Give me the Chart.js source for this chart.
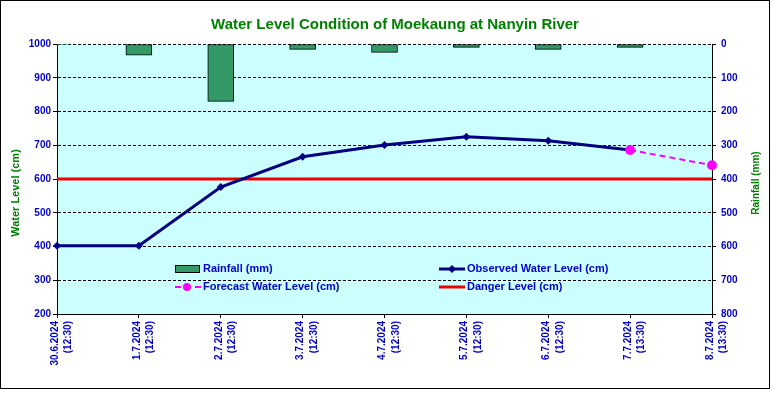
<!DOCTYPE html>
<html>
<head>
<meta charset="utf-8">
<title>Water Level Condition of Moekaung at Nanyin River</title>
<script src="https://cdn.jsdelivr.net/npm/chart.js@4.4.1/dist/chart.umd.min.js"></script>
<style>
    body { margin: 0; background: #fff; }
    #grafico { display: block; }
</style>
</head>
<body>
<canvas id="grafico" width="773" height="393"></canvas>
<script>
const d = document;

// ==================== DATOS ======================
const fechas = ['30.6.2024', '1.7.2024', '2.7.2024', '3.7.2024', '4.7.2024', '5.7.2024', '6.7.2024', '7.7.2024', '8.7.2024'];
const horas = ['(12:30)', '(12:30)', '(12:30)', '(12:30)', '(12:30)', '(12:30)', '(12:30)', '(13:30)', '(13:30)'];
const lluvia = [2, 33, 170, 16, 25, 10, 16, 10, null];
const nivelObservado = [402, 402, 576, 666, 701, 725, 713, 686, null];
const nivelPronostico = [null, null, null, null, null, null, null, 686, 641];
const nivelPeligro = [600, 600, 600, 600, 600, 600, 600, 600, 600];

const azul = '#0000cc',
    verde = '#008000';

// posiciones de la leyenda (dentro del area del grafico)
const posLeyenda = [
    { x: 175, y: 269 },
    { x: 439, y: 269 },
    { x: 175, y: 287 },
    { x: 439, y: 287 },
];

const extras = {
    id: 'extras',
    beforeDraw(chart) {
        const { ctx, chartArea: a } = chart;
        ctx.save();
        ctx.fillStyle = '#ccffff';
        ctx.fillRect(a.left, a.top, a.right - a.left, a.bottom - a.top);
        ctx.restore();
    },
    afterDraw(chart) {
        const ctx = chart.ctx;
        ctx.save();

        // borde exterior
        ctx.strokeStyle = '#000';
        ctx.lineWidth = 1;
        ctx.strokeRect(0.5, 0.5, 769, 388);

        // titulo
        ctx.fillStyle = verde;
        ctx.font = 'bold 15px "Liberation Sans", sans-serif';
        ctx.textAlign = 'center';
        ctx.textBaseline = 'middle';
        ctx.fillText('Water Level Condition of Moekaung at Nanyin River', 395, 25);

        // titulos de los ejes
        ctx.font = 'bold 11px "Liberation Sans", sans-serif';
        ctx.save();
        ctx.translate(16, 193);
        ctx.rotate(-Math.PI / 2);
        ctx.fillText('Water Level (cm)', 0, 0);
        ctx.restore();
        ctx.font = 'bold 10px "Liberation Sans Narrow", "Liberation Sans", sans-serif';
        ctx.save();
        ctx.translate(756, 183);
        ctx.rotate(-Math.PI / 2);
        ctx.fillText('Rainfall (mm)', 0, 0);
        ctx.restore();

        // leyenda
        ctx.textAlign = 'left';
        ctx.font = 'bold 11px "Liberation Sans", sans-serif';
        chart.data.datasets.forEach((ds) => {
            const p = posLeyenda[ds.leyenda];
            if (ds.type === 'bar') {
                ctx.fillStyle = ds.backgroundColor;
                ctx.fillRect(p.x, p.y - 3, 24, 6);
                ctx.strokeStyle = '#000';
                ctx.lineWidth = 1;
                ctx.strokeRect(p.x + 0.5, p.y - 3.5, 24, 7);
            } else {
                ctx.strokeStyle = ds.borderColor;
                ctx.lineWidth = ds.borderWidth;
                ctx.setLineDash(ds.borderDash || []);
                ctx.beginPath();
                ctx.moveTo(p.x, p.y);
                ctx.lineTo(p.x + 26, p.y);
                ctx.stroke();
                ctx.setLineDash([]);
                if (ds.pointRadius > 0) {
                    ctx.fillStyle = ds.pointBackgroundColor;
                    ctx.beginPath();
                    if (ds.pointStyle === 'rectRot') {
                        const r = ds.pointRadius;
                        ctx.moveTo(p.x + 13, p.y - r);
                        ctx.lineTo(p.x + 13 + r, p.y);
                        ctx.lineTo(p.x + 13, p.y + r);
                        ctx.lineTo(p.x + 13 - r, p.y);
                        ctx.closePath();
                    } else {
                        ctx.arc(p.x + 12, p.y, ds.pointRadius, 0, Math.PI * 2);
                    }
                    ctx.fill();
                }
            }
            ctx.fillStyle = azul;
            ctx.textBaseline = 'middle';
            ctx.fillText(ds.label, p.x + 28, p.y);
        });

        ctx.restore();
    }
};

const chart = new Chart(d.getElementById('grafico'), {
    data: {
        labels: fechas.map((f, i) => [f, horas[i]]),
        datasets: [
            {
                type: 'line',
                label: 'Forecast Water Level (cm)',
                data: nivelPronostico,
                yAxisID: 'y',
                borderColor: '#ff00ff',
                borderWidth: 2,
                borderDash: [6, 4],
                pointStyle: 'circle',
                pointRadius: 4,
                pointBackgroundColor: '#ff00ff',
                pointBorderColor: '#ff00ff',
                order: 1,
                leyenda: 2,
            },
            {
                type: 'line',
                label: 'Observed Water Level (cm)',
                data: nivelObservado,
                yAxisID: 'y',
                borderColor: '#000080',
                borderWidth: 3,
                pointStyle: 'rectRot',
                pointRadius: 4,
                pointBorderWidth: 0,
                pointBackgroundColor: '#000080',
                pointBorderColor: '#000080',
                order: 2,
                leyenda: 1,
            },
            {
                type: 'line',
                label: 'Danger Level (cm)',
                data: nivelPeligro,
                yAxisID: 'y',
                borderColor: '#ee0000',
                borderWidth: 3,
                pointRadius: 0,
                order: 3,
                leyenda: 3,
            },
            {
                type: 'bar',
                label: 'Rainfall (mm)',
                data: lluvia,
                yAxisID: 'y2',
                backgroundColor: '#339966',
                borderColor: '#000',
                borderWidth: 1,
                borderSkipped: false,
                barThickness: 26,
                clip: 0,
                order: 4,
                leyenda: 0,
            },
        ]
    },
    options: {
        responsive: false,
        animation: false,
        devicePixelRatio: 1,
        layout: { padding: { top: 44, left: 0, right: 0, bottom: 0 } },
        plugins: {
            legend: { display: false },
            title: { display: false },
            tooltip: { enabled: false },
        },
        scales: {
            x: {
                offset: false,
                grid: { offset: false, drawOnChartArea: false, drawTicks: true, tickLength: 4, color: '#000' },
                border: { color: '#000', width: 1 },
                ticks: {
                    color: azul,
                    font: { family: 'Liberation Sans', size: 10, weight: 'bold', lineHeight: 1.35 },
                    minRotation: 90,
                    maxRotation: 90,
                    padding: 3,
                    labelOffset: -2,
                    autoSkip: false,
                },
                afterFit(s) { s.height = 79; },
            },
            y: {
                position: 'left',
                min: 200,
                max: 1000,
                grid: { color: '#000', lineWidth: 1, tickLength: 4, tickBorderDash: [] },
                border: { color: '#000', width: 1, dash: [3, 2] },
                ticks: {
                    stepSize: 100,
                    color: azul,
                    padding: 2,
                    font: { family: 'Liberation Sans', size: 10, weight: 'bold' },
                    callback: (v) => String(v),
                },
                afterFit(s) { s.width = 57; },
            },
            y2: {
                position: 'right',
                reverse: true,
                min: 0,
                max: 800,
                grid: { drawOnChartArea: false, color: '#000', tickLength: 4 },
                border: { color: '#000', width: 1 },
                ticks: {
                    stepSize: 100,
                    color: azul,
                    padding: 5,
                    font: { family: 'Liberation Sans', size: 10, weight: 'bold' },
                    callback: (v) => String(v),
                },
                afterFit(s) { s.width = 61; },
            },
        }
    },
    plugins: [extras]
});
</script>
</body>
</html>
